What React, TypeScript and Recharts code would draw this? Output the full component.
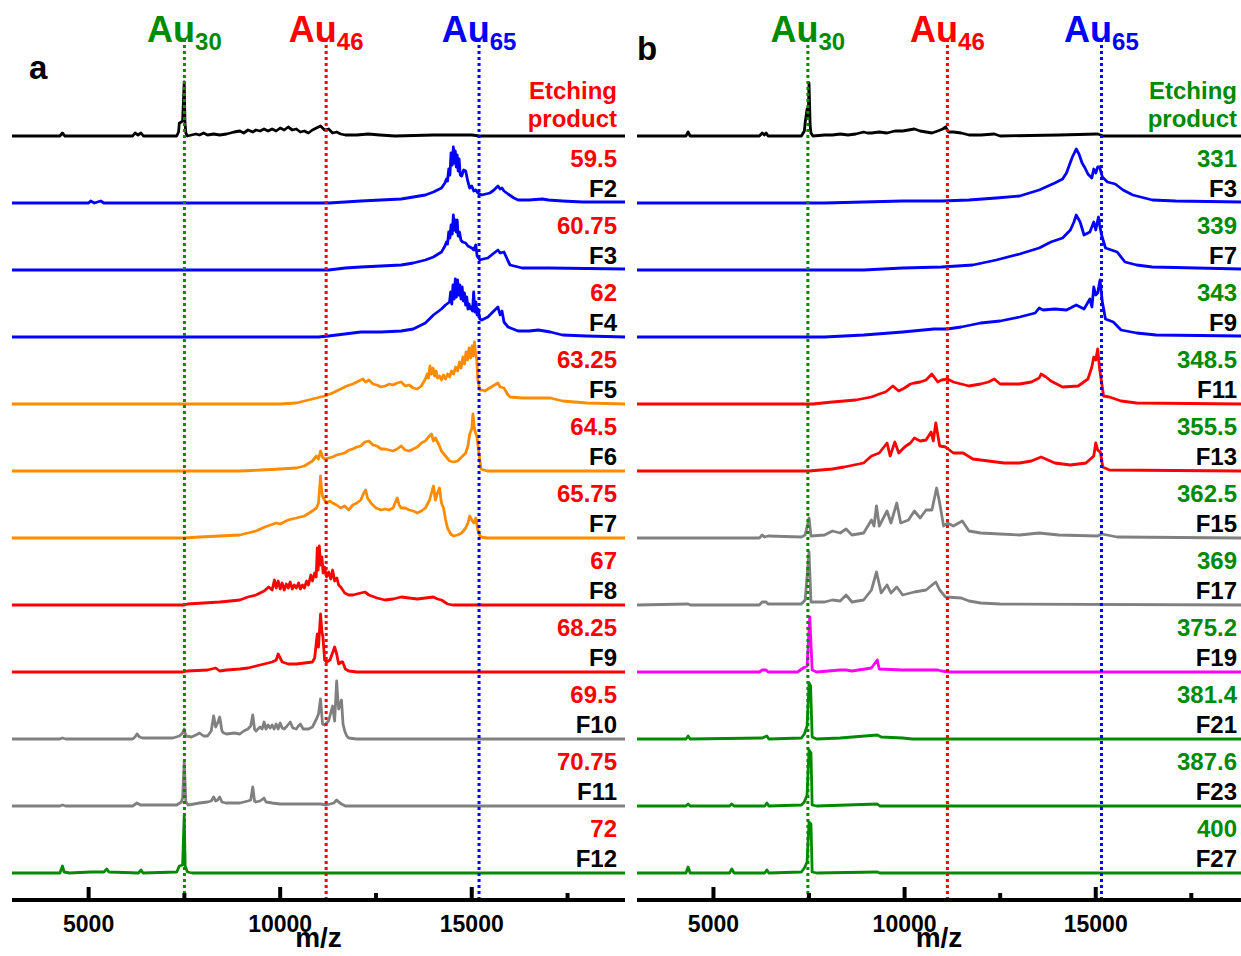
import React from 'react';
import { ComposedChart, Line, XAxis, YAxis, ReferenceLine, Scatter } from 'recharts';

type Pt = [number, number];

// Each spectrum: [m/z, peak height above its own baseline]

// ---- panel a ----
const aEtching: Pt[] = [[3000,0],[4250,0],[4316,3],[4380,0],[6150,0],[6210,3],[6290,1],[6368,3],[6430,0],[7300,0],[7347,4],[7368,13],[7421,14],[7453,15],[7495,54],[7515,14],[7537,3],[7579,0],[7684,1],[7800,2],[7895,1],[8000,3],[8105,1],[8263,2],[8421,1],[8600,2],[8800,4],[8947,5],[9050,3],[9158,6],[9284,4],[9368,6],[9474,5],[9579,7],[9684,5],[9789,7],[9895,5],[10000,8],[10105,6],[10210,9],[10316,6],[10421,7],[10526,4],[10631,5],[10737,3],[10842,6],[10947,8],[11053,10],[11158,6],[11263,7],[11368,3],[11474,4],[11579,2],[11700,1],[12000,1],[12300,2],[12600,1],[13000,0],[14000,1],[15000,1],[15200,0],[19000,0]];
const aF2: Pt[] = [[3000,0],[5000,0],[5053,2],[5150,0],[5316,2],[5400,0],[8000,0],[11263,0],[11700,1],[12105,2],[12632,3],[13158,4],[13474,6],[13789,8],[14000,11],[14210,15],[14300,20],[14340,24],[14368,22],[14400,34],[14430,28],[14460,50],[14490,38],[14520,56],[14545,40],[14570,52],[14595,36],[14620,48],[14645,32],[14670,44],[14700,28],[14737,27],[14790,33],[14842,32],[14895,22],[14947,15],[15000,17],[15053,12],[15105,13],[15158,10],[15263,8],[15368,9],[15474,10],[15580,13],[15684,17],[15740,14],[15789,15],[15842,12],[15947,9],[16100,5],[16210,3],[16500,3],[16842,4],[17000,3],[17368,2],[17895,1],[18500,1],[19000,1]];
const aF3: Pt[] = [[3000,0],[11263,0],[11700,2],[12105,3],[12632,4],[13158,5],[13474,7],[13789,10],[14000,13],[14210,18],[14300,24],[14340,28],[14368,26],[14400,38],[14430,32],[14460,45],[14490,36],[14520,55],[14545,40],[14570,50],[14595,38],[14620,50],[14645,34],[14680,38],[14716,30],[14760,28],[14842,27],[14900,24],[15000,22],[15053,20],[15105,25],[15140,14],[15210,10],[15300,11],[15421,12],[15550,16],[15684,20],[15740,17],[15842,18],[15947,9],[16000,5],[16316,2],[17000,2],[19000,1]];
const aF4: Pt[] = [[3000,0],[11000,0],[11263,1],[11684,3],[12105,5],[12632,5],[13158,6],[13474,8],[13789,14],[14000,22],[14105,25],[14210,28],[14315,32],[14420,35],[14450,45],[14480,33],[14510,52],[14540,38],[14570,58],[14600,40],[14630,57],[14660,42],[14690,52],[14720,38],[14750,50],[14780,36],[14810,44],[14840,32],[14870,40],[14900,28],[14930,33],[14960,28],[14990,30],[15020,26],[15050,45],[15080,25],[15110,35],[15140,22],[15170,28],[15210,18],[15263,17],[15421,20],[15550,25],[15684,30],[15740,22],[15789,26],[15842,15],[15947,10],[16210,6],[16500,6],[16737,7],[17053,5],[17368,2],[18000,1],[19000,0]];
const aF5: Pt[] = [[3000,0],[10000,0],[10421,1],[10842,5],[11158,8],[11368,11],[11579,15],[11737,18],[11895,20],[12000,22],[12158,25],[12230,22],[12316,24],[12421,20],[12526,19],[12632,17],[12737,18],[12850,20],[12947,19],[13053,21],[13158,22],[13263,18],[13368,19],[13474,16],[13579,15],[13684,18],[13789,25],[13840,30],[13870,26],[13910,38],[13947,30],[13990,36],[14030,28],[14070,33],[14105,26],[14160,28],[14210,24],[14260,29],[14315,25],[14370,30],[14421,27],[14470,33],[14526,30],[14580,37],[14631,33],[14680,42],[14720,36],[14770,47],[14810,40],[14850,52],[14890,44],[14930,56],[14970,46],[15010,58],[15040,48],[15070,62],[15100,50],[15130,45],[15158,24],[15210,14],[15263,14],[15350,13],[15421,15],[15550,18],[15684,21],[15740,17],[15842,16],[15947,9],[16000,7],[16316,6],[16842,6],[17053,6],[17368,3],[18000,1],[19000,0]];
const aF6: Pt[] = [[3000,0],[8947,0],[9500,1],[10000,2],[10421,3],[10631,5],[10842,10],[10947,15],[11000,12],[11053,20],[11105,14],[11158,12],[11263,13],[11368,14],[11474,16],[11579,17],[11684,18],[11800,21],[11895,22],[12000,24],[12105,25],[12210,29],[12316,30],[12421,26],[12526,25],[12632,22],[12737,22],[12842,21],[12947,20],[13053,22],[13158,25],[13263,21],[13368,20],[13474,22],[13579,24],[13684,28],[13789,30],[13870,34],[13947,37],[14000,30],[14053,33],[14158,25],[14210,20],[14315,15],[14421,10],[14526,9],[14631,10],[14737,14],[14842,18],[14900,25],[14947,37],[15000,42],[15031,57],[15060,45],[15084,40],[15137,34],[15180,20],[15242,2],[15400,0],[19000,0]];
const aF7: Pt[] = [[3000,0],[7500,0],[7895,1],[8421,2],[8947,3],[9158,5],[9368,7],[9600,11],[9895,15],[10000,14],[10210,18],[10421,20],[10631,22],[10800,26],[10947,30],[11000,35],[11053,62],[11080,48],[11105,42],[11158,38],[11210,35],[11300,37],[11368,35],[11474,33],[11579,30],[11684,32],[11789,28],[11895,33],[12000,35],[12105,38],[12170,44],[12231,48],[12280,40],[12368,35],[12500,30],[12632,28],[12737,29],[12842,28],[12947,30],[13000,35],[13053,40],[13105,33],[13158,30],[13263,30],[13368,28],[13474,27],[13579,25],[13684,27],[13789,30],[13900,38],[14000,52],[14050,38],[14105,45],[14158,50],[14210,35],[14263,30],[14320,18],[14368,10],[14450,4],[14526,2],[14631,3],[14737,5],[14842,10],[14900,15],[14947,22],[15000,18],[15053,15],[15105,20],[15158,8],[15230,1],[15400,0],[19000,0]];
const aF8: Pt[] = [[3000,0],[7500,0],[7579,1],[8000,2],[8421,3],[8700,4],[8947,5],[9158,8],[9368,10],[9580,14],[9700,18],[9789,15],[9850,25],[9895,17],[9947,24],[10000,16],[10050,22],[10105,15],[10160,21],[10210,17],[10260,23],[10316,16],[10370,20],[10421,17],[10480,22],[10526,16],[10580,20],[10631,17],[10690,24],[10737,20],[10800,30],[10842,24],[10900,32],[10940,28],[10968,57],[10990,35],[11021,59],[11053,40],[11090,48],[11120,32],[11160,38],[11210,28],[11263,33],[11320,26],[11368,35],[11421,24],[11480,27],[11526,20],[11579,18],[11684,12],[11789,10],[11895,10],[12000,11],[12105,12],[12210,13],[12316,10],[12526,7],[12737,5],[12947,6],[13158,8],[13368,7],[13579,6],[13789,7],[14000,8],[14105,6],[14210,5],[14368,1],[14500,0],[19000,0]];
const aF9: Pt[] = [[3000,0],[7450,0],[7579,1],[8105,2],[8316,4],[8421,1],[8600,2],[8947,3],[9158,4],[9368,6],[9580,8],[9789,10],[9895,12],[9947,18],[10000,14],[10053,10],[10210,8],[10421,8],[10631,9],[10842,10],[10900,14],[10968,38],[11000,25],[11053,58],[11090,40],[11116,35],[11160,12],[11210,10],[11300,12],[11421,25],[11474,18],[11526,8],[11600,10],[11632,10],[11700,3],[11789,1],[12000,0],[19000,0]];
const aF10: Pt[] = [[3000,0],[4250,0],[4316,1],[4400,0],[6150,0],[6210,2],[6263,5],[6330,2],[6400,1],[7200,1],[7368,3],[7453,6],[7495,10],[7537,3],[7684,2],[7800,4],[7895,6],[8000,3],[8105,3],[8200,8],[8263,23],[8316,12],[8368,16],[8421,22],[8480,8],[8526,6],[8600,5],[8800,6],[8947,5],[9050,8],[9158,10],[9230,13],[9284,24],[9330,10],[9368,8],[9474,12],[9530,10],[9579,17],[9630,10],[9684,14],[9740,11],[9789,14],[9840,10],[9895,15],[9947,10],[10000,16],[10053,11],[10105,10],[10180,13],[10263,17],[10330,11],[10421,10],[10474,13],[10526,15],[10600,10],[10737,10],[10842,12],[10947,20],[11000,25],[11053,40],[11105,15],[11160,14],[11263,18],[11368,33],[11421,18],[11474,58],[11500,42],[11526,30],[11570,35],[11600,39],[11640,15],[11684,8],[11737,3],[11789,1],[12000,0],[19000,0]];
const aF11: Pt[] = [[3000,0],[4250,0],[4316,1],[4400,0],[6150,0],[6263,3],[6350,1],[7300,1],[7421,4],[7453,8],[7495,45],[7537,4],[7600,1],[7895,3],[8105,4],[8200,5],[8263,9],[8316,5],[8368,6],[8421,9],[8480,4],[8579,3],[8800,3],[8947,3],[9158,5],[9230,6],[9284,19],[9330,5],[9368,4],[9474,5],[9579,8],[9630,4],[9789,3],[10000,2],[10526,2],[11053,2],[11210,1],[11400,3],[11474,6],[11526,4],[11600,2],[11700,0],[19000,0]];
const aF12: Pt[] = [[3000,0],[4250,0],[4316,7],[4360,1],[4500,0],[5053,1],[5400,1],[5474,4],[5530,1],[6300,0],[6368,3],[6420,0],[7300,1],[7368,7],[7453,8],[7495,57],[7520,7],[7579,1],[7700,0],[19000,0]];

const aValues = ['Etching product', '59.5', '60.75', '62', '63.25', '64.5', '65.75', '67', '68.25', '69.5', '70.75', '72'];
const aFractions = ['', 'F2', 'F3', 'F4', 'F5', 'F6', 'F7', 'F8', 'F9', 'F10', 'F11', 'F12'];
const aColors = ['#000000', '#0000ff', '#0000ff', '#0000ff', '#ff8c00', '#ff8c00', '#ff8c00', '#ff0000', '#ff0000', '#808080', '#808080', '#008a00'];

// ---- panel b ----
const bEtching: Pt[] = [[3000,0],[4280,0],[4337,4],[4390,0],[6200,0],[6276,3],[6330,1],[6378,3],[6430,0],[7300,0],[7378,5],[7398,13],[7449,27],[7480,20],[7500,53],[7530,10],[7551,3],[7602,0],[7908,1],[8112,1],[8316,2],[8520,1],[8724,2],[8929,4],[9030,3],[9133,3],[9337,4],[9541,3],[9745,5],[9949,5],[10102,6],[10255,7],[10408,5],[10561,4],[10714,3],[10867,5],[11000,7],[11071,9],[11150,4],[11276,4],[11480,3],[11684,1],[12000,1],[12347,2],[12500,0],[14031,1],[15051,2],[15200,0],[18800,0]];
const bF3: Pt[] = [[3000,0],[7908,0],[8929,1],[9949,2],[10969,2],[11684,3],[12398,5],[13010,7],[13520,13],[13929,20],[14133,24],[14235,30],[14388,46],[14440,50],[14490,54],[14561,49],[14643,40],[14720,35],[14796,29],[14898,25],[14949,34],[15000,30],[15051,36],[15102,36],[15173,26],[15306,21],[15510,19],[15714,13],[15969,8],[16480,3],[17092,2],[18800,1]];
const bF7: Pt[] = [[3000,0],[8929,0],[9949,2],[10969,3],[11786,5],[12398,10],[13010,16],[13520,22],[13827,28],[14133,32],[14337,40],[14430,48],[14490,55],[14592,48],[14694,35],[14847,38],[14949,48],[15000,40],[15071,53],[15102,45],[15153,35],[15255,22],[15408,20],[15561,18],[15765,8],[16071,5],[16480,3],[18800,1]];
const bF9: Pt[] = [[3000,0],[7900,0],[8929,2],[9949,5],[10765,8],[11122,8],[11480,10],[11990,14],[12500,16],[13010,20],[13418,24],[13520,29],[13622,27],[13929,28],[14235,27],[14490,32],[14694,28],[14847,38],[14900,30],[14949,50],[15000,42],[15051,44],[15112,57],[15173,35],[15255,18],[15459,15],[15663,7],[16071,4],[16582,2],[18800,1]];
const bF11: Pt[] = [[3000,0],[7602,0],[8112,2],[8724,4],[9133,7],[9337,10],[9500,12],[9694,18],[9847,13],[10000,16],[10153,20],[10255,21],[10408,22],[10561,24],[10714,30],[10867,22],[10969,24],[11122,25],[11276,22],[11480,20],[11684,18],[11990,20],[12194,22],[12347,25],[12500,20],[12602,20],[13010,20],[13316,22],[13520,26],[13571,30],[13700,27],[13827,23],[14133,17],[14541,18],[14796,25],[14898,37],[14949,47],[15000,44],[15051,55],[15102,35],[15153,22],[15204,8],[15357,7],[15663,3],[16071,1],[18800,0]];
const bF13: Pt[] = [[3000,0],[7500,0],[8112,2],[8418,4],[8929,8],[9133,15],[9337,18],[9541,28],[9622,15],[9745,29],[9847,18],[10000,24],[10153,28],[10255,33],[10408,30],[10561,31],[10694,39],[10750,30],[10816,48],[10918,25],[11071,24],[11276,18],[11531,18],[11786,12],[12194,10],[12602,8],[13010,8],[13316,10],[13571,14],[13929,8],[14337,6],[14745,8],[14949,15],[15000,28],[15051,21],[15122,19],[15184,4],[15357,1],[18800,0]];
const bF15: Pt[] = [[3000,0],[6200,0],[6276,3],[6330,1],[6429,2],[7300,1],[7398,3],[7500,20],[7551,2],[7908,3],[8112,7],[8316,5],[8469,9],[8622,3],[8929,5],[9133,18],[9200,12],[9265,32],[9337,12],[9541,27],[9643,15],[9796,35],[9898,15],[10102,18],[10255,27],[10408,20],[10561,28],[10714,28],[10837,50],[10918,35],[11020,12],[11122,15],[11276,12],[11510,17],[11684,7],[11990,5],[12500,4],[13010,3],[13520,5],[14031,3],[15051,2],[15153,4],[15561,1],[18800,0]];
const bF17: Pt[] = [[3000,0],[4337,1],[4400,0],[6200,0],[6276,3],[6378,3],[6429,1],[7300,1],[7398,5],[7500,53],[7551,3],[7908,3],[8112,5],[8316,4],[8469,10],[8622,3],[8929,5],[9133,15],[9265,33],[9388,12],[9541,20],[9643,12],[9796,18],[9949,10],[10255,13],[10561,15],[10816,23],[10918,15],[11071,8],[11480,7],[11684,4],[11990,2],[12500,1],[18800,0]];
const bF19: Pt[] = [[3000,0],[6200,0],[6276,2],[6378,2],[6430,0],[7200,0],[7347,4],[7449,6],[7520,55],[7582,2],[7700,0],[8316,2],[8469,2],[8622,1],[9133,4],[9286,12],[9337,3],[9949,2],[10867,2],[10969,1],[11200,0],[18800,0]];
const bF21: Pt[] = [[3000,0],[4280,0],[4337,3],[4390,0],[6276,1],[6398,3],[6450,0],[7300,1],[7378,5],[7449,13],[7500,56],[7541,53],[7582,2],[7700,0],[8316,1],[9286,4],[9388,2],[9949,1],[10200,0],[18800,0]];
const bF23: Pt[] = [[3000,0],[4280,0],[4337,2],[4390,0],[5420,0],[5480,2],[5540,0],[6340,0],[6398,3],[6450,0],[7300,1],[7378,4],[7449,11],[7500,56],[7551,53],[7582,1],[7700,0],[9286,2],[9350,0],[18800,0]];
const bF27: Pt[] = [[3000,0],[4280,0],[4337,6],[4390,0],[5420,0],[5480,4],[5540,0],[6340,0],[6398,3],[6450,0],[7300,1],[7378,5],[7449,11],[7500,51],[7551,49],[7582,1],[7700,0],[9286,1],[9350,0],[18800,0]];

const bValues = ['Etching product', '331', '339', '343', '348.5', '355.5', '362.5', '369', '375.2', '381.4', '387.6', '400'];
const bFractions = ['', 'F3', 'F7', 'F9', 'F11', 'F13', 'F15', 'F17', 'F19', 'F21', 'F23', 'F27'];
const bColors = ['#000000', '#0000ff', '#0000ff', '#0000ff', '#ff0000', '#ff0000', '#808080', '#808080', '#ff00ff', '#008a00', '#008a00', '#008a00'];

// cluster markers
const clusterNames = ['30', '46', '65'];
const clusterColors = ['#008a00', '#ff0000', '#0000ff'];
const aMarkers = [7500, 11200, 15190];
const bMarkers = [7470, 11120, 15150];

const axisTicks = [5000, 7500, 10000, 12500, 15000, 17500];

const FONT = "'Liberation Sans', Arial, sans-serif";
const STEP = 67;
const FLOOR = 27;
const TOP = 860;
const baseOf = (i: number) => FLOOR + (11 - i) * STEP;

const AxisTick = (props: any) => {
  const { x, y, payload } = props;
  const major = payload.value % 5000 === 0;
  return (
    <g>
      <line x1={x} x2={x} y1={y} y2={y - (major ? 13 : 7)} stroke="#000" strokeWidth={4} />
      {major && (
        <text x={x} y={y + 32} textAnchor="middle" fontSize={23} fontWeight="bold" fill="#000" fontFamily={FONT}>
          {payload.value}
        </text>
      )}
    </g>
  );
};

const ClusterHead = (props: any) => {
  const { cx, cy, payload } = props;
  return (
    <text x={cx} y={cy + 2} textAnchor="middle" fontWeight="bold" fill={payload.color} fontFamily={FONT}>
      <tspan fontSize={36}>Au</tspan>
      <tspan fontSize={24} dy={8}>{payload.sub}</tspan>
    </text>
  );
};

type PanelCfg = {
  traces: Pt[][];
  colors: string[];
  values: string[];
  fractions: string[];
  valueColor: string;
  domain: [number, number];
  markers: number[];
};

const panelA: PanelCfg = {
  traces: [aEtching, aF2, aF3, aF4, aF5, aF6, aF7, aF8, aF9, aF10, aF11, aF12],
  colors: aColors,
  values: aValues,
  fractions: aFractions,
  valueColor: '#ff0000',
  domain: [3000, 19000],
  markers: aMarkers,
};

const panelB: PanelCfg = {
  traces: [bEtching, bF3, bF7, bF9, bF11, bF13, bF15, bF17, bF19, bF21, bF23, bF27],
  colors: bColors,
  values: bValues,
  fractions: bFractions,
  valueColor: '#008a00',
  domain: [3000, 18800],
  markers: bMarkers,
};

function Panel({ cfg, left, width, mLeft, mRight, inset }: { cfg: PanelCfg; left: number; width: number; mLeft: number; mRight: number; inset: number }) {
  const series = cfg.traces.map((t, i) => t.map(([x, h]) => ({ x, y: baseOf(i) + h })));
  const tags = cfg.traces.map((_, i) => ({ x: cfg.domain[1], y: baseOf(i), value: cfg.values[i], fraction: cfg.fractions[i] }));
  const heads = cfg.markers.map((m, k) => ({ x: m, y: TOP, sub: clusterNames[k], color: clusterColors[k] }));

  const Tag = (props: any) => {
    const { cx, cy, payload } = props;
    const rx = cx - inset;
    if (payload.value === 'Etching product') {
      return (
        <g fontFamily={FONT} fontWeight="bold" fontSize={24} fill={cfg.valueColor} textAnchor="end">
          <text x={rx} y={cy - 37}>Etching</text>
          <text x={rx} y={cy - 9}>product</text>
        </g>
      );
    }
    return (
      <g fontFamily={FONT} fontWeight="bold" fontSize={24} textAnchor="end">
        <text x={rx} y={cy - 36} fill={cfg.valueColor}>{payload.value}</text>
        <text x={rx} y={cy - 6} fill="#000">{payload.fraction}</text>
      </g>
    );
  };

  return (
    <div style={{ position: 'absolute', left, top: 0 }}>
      <ComposedChart width={width} height={956} margin={{ top: 40, right: mRight, bottom: 6, left: mLeft }}>
        <XAxis
          type="number"
          dataKey="x"
          domain={cfg.domain}
          ticks={axisTicks}
          interval={0}
          height={50}
          axisLine={{ stroke: '#000', strokeWidth: 4 }}
          tickLine={false}
          tickSize={0}
          tickMargin={0}
          tick={(p: any) => <AxisTick {...p} />}
          label={{ value: 'm/z', position: 'insideBottom', offset: 3, fontSize: 28, fontWeight: 'bold', fill: '#000', fontFamily: FONT }}
        />
        <YAxis type="number" domain={[0, TOP]} hide />
        {series.map((d, i) => (
          <Line
            key={i}
            data={d}
            dataKey="y"
            type="linear"
            stroke={cfg.colors[i]}
            strokeWidth={2.8}
            strokeLinejoin="round"
            dot={false}
            activeDot={false}
            isAnimationActive={false}
          />
        ))}
        {cfg.markers.map((m, k) => (
          <ReferenceLine key={k} x={m} stroke={clusterColors[k]} strokeWidth={3} strokeDasharray="3 3" />
        ))}
        <Scatter data={heads} dataKey="y" shape={ClusterHead} isAnimationActive={false} />
        <Scatter data={tags} dataKey="y" shape={Tag} isAnimationActive={false} />
      </ComposedChart>
    </div>
  );
}

export default function App() {
  return (
    <div style={{ position: 'absolute', left: 0, top: 0, width: 1241, height: 956, background: '#fff', fontFamily: FONT, overflow: 'hidden' }}>
      <Panel cfg={panelA} left={0} width={640} mLeft={12} mRight={15} inset={8} />
      <Panel cfg={panelB} left={630} width={611} mLeft={7} mRight={0} inset={4} />
      <svg width={1241} height={956} style={{ position: 'absolute', left: 0, top: 0, pointerEvents: 'none' }}>
        <text x={29} y={79} fontSize={33} fontWeight="bold" fill="#000" fontFamily={FONT}>a</text>
        <text x={637} y={60} fontSize={33} fontWeight="bold" fill="#000" fontFamily={FONT}>b</text>
      </svg>
    </div>
  );
}
